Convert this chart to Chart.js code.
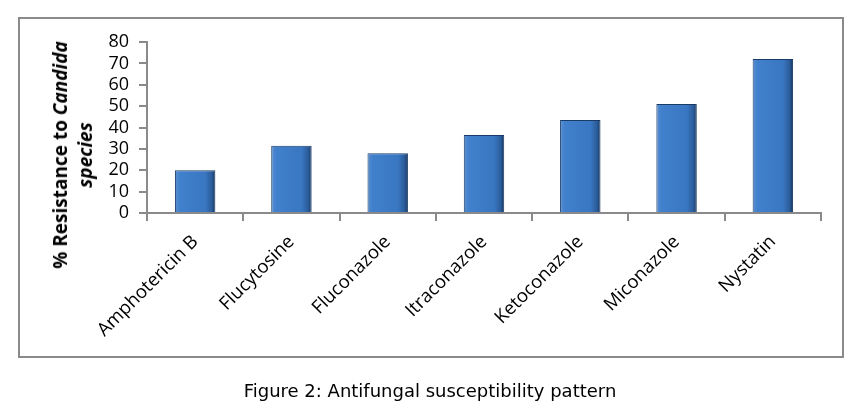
<!DOCTYPE html>
<html>
<head>
<meta charset="utf-8">
<script src="https://cdn.jsdelivr.net/npm/chart.js@4"></script>
<style>
  html,body{margin:0;padding:0;background:#fff;}
  #wrap{position:relative;width:860px;height:416px;overflow:hidden;}
  #frame{position:absolute;left:18px;top:17px;width:822px;height:337px;border:2px solid #8a8a8a;box-sizing:content-box;}
  canvas{position:absolute;left:0;top:0;}
  #ytitle{position:absolute;left:73px;top:155px;transform:translate(-50%,-50%) rotate(-90deg);
    font-family:"Open Sans",sans-serif;font-weight:bold;font-size:19px;line-height:25px;text-align:center;white-space:nowrap;color:#000;}
  #caption{position:absolute;left:0;width:860px;top:380px;text-align:center;font-family:"DejaVu Sans",sans-serif;font-size:18px;color:#000;}
</style>
</head>
<body>
<div id="wrap">
  <div id="frame"></div>
  <canvas id="c" width="860" height="416"></canvas>
  <div id="ytitle">% Resistance to <i>Candida</i><br><i>species</i></div>
  <div id="caption">Figure 2: Antifungal susceptibility pattern</div>
</div>
<script>
const categories = ["Amphotericin B","Flucytosine","Fluconazole","Itraconazole","Ketoconazole","Miconazole","Nystatin"];
const resistance = [20, 31.5, 28, 36.5, 43.5, 51, 72];
const yTicks = [0,10,20,30,40,50,60,70,80];

const gradientPlugin = {
  id:'barGradient',
  beforeDatasetsDraw(chart){
    const meta = chart.getDatasetMeta(0);
    meta.data.forEach(el=>{
      const x0 = el.x - el.width/2, x1 = el.x + el.width/2;
      const g = chart.ctx.createLinearGradient(x0,0,x1,0);
      g.addColorStop(0,'#5b8fcf');
      g.addColorStop(0.12,'#4180cc');
      g.addColorStop(0.75,'#3a77c2');
      g.addColorStop(0.92,'#2a5b98');
      g.addColorStop(1,'#142f55');
      el.options.backgroundColor = g;
    });
  }
};

const ctx = document.getElementById('c').getContext('2d');
new Chart(ctx,{
  type:'bar',
  data:{labels:categories,datasets:[{data:resistance,backgroundColor:()=>'#3d7cc8',borderColor:()=>'#1a3b66',borderWidth:1,barPercentage:0.42,categoryPercentage:1}]},
  options:{
    responsive:false,animation:false,
    layout:{padding:{top:42,right:39,left:0,bottom:0}},
    plugins:{legend:{display:false},tooltip:{enabled:false}},
    scales:{
      y:{min:0,max:80,
        afterBuildTicks:(s)=>{s.ticks=yTicks.map(v=>({value:v}));},
        afterFit:(s)=>{s.width=147;},
        border:{display:true,color:'#8a8a8a',width:2},
        grid:{display:true,drawOnChartArea:false,drawTicks:true,tickLength:8,color:'#8a8a8a',lineWidth:2},
        ticks:{autoSkip:false,padding:10,color:'#000',font:{family:'Open Sans',size:18,lineHeight:1}}
      },
      x:{
        afterFit:(s)=>{s.height=203;},
        border:{display:true,color:'#8a8a8a',width:2},
        grid:{display:true,offset:true,drawOnChartArea:false,drawTicks:true,tickLength:8,color:'#8a8a8a',lineWidth:2},
        ticks:{autoSkip:false,minRotation:45,maxRotation:45,padding:10,color:'#000',font:{family:'Open Sans',size:18.5}}
      }
    }
  },
  plugins:[gradientPlugin]
});
</script>
</body>
</html>
